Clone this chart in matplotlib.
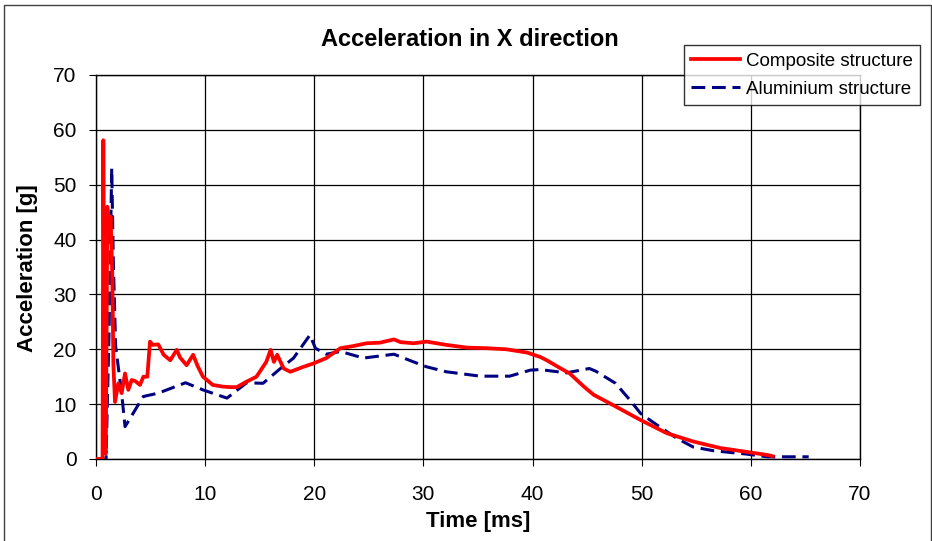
import numpy as np
import matplotlib
matplotlib.use("Agg")
import matplotlib.pyplot as plt
from matplotlib.patches import Rectangle

plt.rcParams['font.family'] = ['Liberation Sans', 'DejaVu Sans']

# composite structure
t_comp = [0, 0.6, 0.67, 0.8, 0.9, 1.04, 1.2, 1.34, 1.5, 1.59, 1.74, 2.05, 2.35,
          2.66, 2.96, 3.27, 3.6, 4.03, 4.34, 4.7, 4.95, 5.2, 5.7, 6.2, 6.8, 7.4,
          7.7, 8.3, 8.9, 9.3, 9.8, 10.7, 11.6, 12.3, 12.9, 13.8, 14.7, 15.0,
          15.6, 16.0, 16.3, 16.6, 17.2, 17.8, 19.0, 19.9, 21.1, 22.4, 23.6,
          24.8, 26.0, 27.3, 27.9, 29.1, 30.3, 32.1, 34.0, 35.8, 37.6, 39.5,
          40.7, 41.3, 42.5, 43.4, 44.7, 45.6, 47.4, 49.9, 52.3, 54.7, 57.2,
          59.6, 61.6, 62.0]
a_comp = [0, 0, 58.1, 2, 1, 46, 40.5, 44.2, 33, 17.4, 10.4, 13.8, 12.0,
          15.6, 12.6, 14.4, 14.2, 13.5, 15.0, 15.0, 21.4, 20.8, 20.9, 19.0,
          18.0, 19.9, 18.5, 17.1, 19.0, 17.0, 15.0, 13.5, 13.2, 13.1, 13.1,
          14.1, 15.0, 15.9, 17.7, 19.9, 17.7, 19.0, 16.5, 15.9, 16.8, 17.4,
          18.4, 20.2, 20.6, 21.1, 21.2, 21.8, 21.3, 21.1, 21.4, 20.8, 20.3,
          20.2, 20.0, 19.4, 18.6, 18.0, 16.6, 15.6, 13.2, 11.7, 9.8, 7.1, 4.7,
          3.2, 2.0, 1.3, 0.7, 0.5]

# aluminium structure
t_alu = [0, 0.92, 1.2, 1.44, 1.59, 1.8, 2.35, 2.66, 4.34, 5.7, 8.2, 9.8,
         12.0, 13.8, 15.3, 16.9, 18.1, 19.6, 20.1, 21.1, 22.4, 24.5, 27.3,
         29.1, 30.3, 32.1, 35.2, 37.9, 39.8, 40.7, 43.1, 45.2, 45.8, 47.6,
         48.9, 49.9, 51.4, 53.2, 54.7, 56.6, 59.6, 61.5, 65.3]
a_alu = [0, 0, 23.5, 53, 35.7, 20.5, 12.0, 5.9, 11.4, 12.0, 13.9, 12.6,
         11.1, 13.9, 13.8, 16.5, 18.4, 22.6, 20.2, 19.1, 19.6, 18.4, 19.1,
         17.7, 16.8, 15.9, 15.1, 15.1, 16.2, 16.3, 15.7, 16.5, 16.0, 13.8,
         10.8, 8.3, 6.2, 3.8, 2.2, 1.5, 0.9, 0.4, 0.4]

labels = ['Composite structure', 'Aluminium structure']
x_ticks = np.arange(0, 71, 10)
y_ticks = np.arange(0, 71, 10)

W, H = 932, 541
fig = plt.figure(figsize=(W / 100, H / 100), dpi=100)
ax = fig.add_axes([96 / W, 1 - 459 / H, (860 - 96) / W, (459 - 75) / H])

ax.plot(t_comp, a_comp, color='#ff0000', lw=2.7, label=labels[0], zorder=4)
ax.plot(t_alu, a_alu, color='#000080', lw=2.2, dashes=(4.5, 2.2), label=labels[1], zorder=3)

ax.set_xlim(0, 70)
ax.set_ylim(0, 70)
ax.set_xticks(x_ticks)
ax.set_yticks(y_ticks)
ax.grid(True, color='black', lw=0.9)
ax.set_axisbelow(True)
ax.tick_params(axis='x', direction='out', length=5, pad=14, labelsize=15)
ax.tick_params(axis='y', direction='out', length=5, pad=9, labelsize=15)
for s in ax.spines.values():
    s.set_linewidth(1.0)

fig.text(470 / W, 1 - 40 / H, 'Acceleration in X direction', ha='center', va='center',
         fontsize=17, fontweight='bold')
fig.text(478 / W, 1 - 521 / H, 'Time [ms]', ha='center', va='center',
         fontsize=16, fontweight='bold')
fig.text(28 / W, 1 - 268 / H, 'Acceleration [g]', ha='center', va='center',
         rotation=90, fontsize=16, fontweight='bold')

leg = fig.legend(loc='upper right', bbox_to_anchor=(920 / W, 1 - 45 / H),
                 fontsize=13.5, frameon=True, fancybox=False, handlelength=2.6,
                 labelspacing=0.6, borderpad=0.4, handletextpad=0.3, borderaxespad=0)
leg.get_frame().set_edgecolor('black')
leg.get_frame().set_linewidth(1.0)

fig.patches.append(Rectangle((4 / W, -0.01), 927 / W, 1 - 5 / H + 0.01,
                             transform=fig.transFigure, fill=False,
                             edgecolor='#404040', lw=1))

fig.savefig('out.png', dpi=100)
